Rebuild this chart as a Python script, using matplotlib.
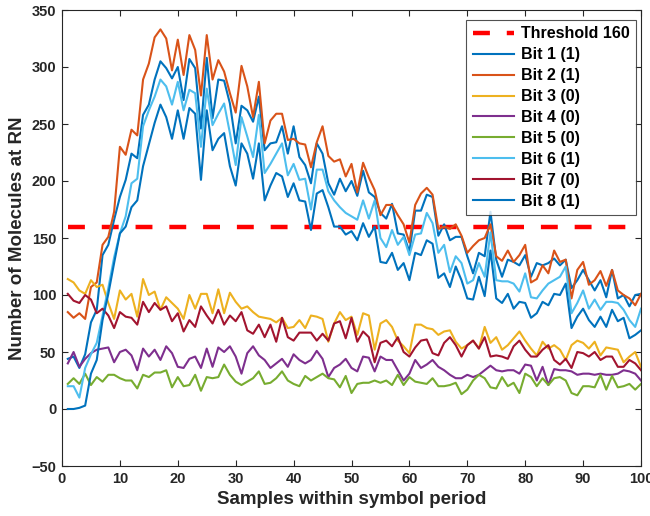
import numpy as np
import matplotlib
matplotlib.use("Agg")
import matplotlib.pyplot as plt

plt.rcParams['font.family'] = ['Liberation Sans', 'DejaVu Sans']
plt.rcParams['font.weight'] = 'bold'

samples = list(range(1, 101))
threshold = 160

bit1 = [44, 46, 36, 48, 76, 87, 135, 144, 166,
        186, 201, 224, 220, 258, 267, 289, 305, 299, 290, 300, 271, 307, 299, 246,
        308, 255, 289, 288, 268, 233, 266, 262, 252, 274, 227, 233, 234, 248, 224, 248, 221, 214, 198, 233, 224, 198, 188, 202, 191,
        200, 187, 209, 190, 186, 172, 167, 180, 154, 153, 138, 174, 174, 188, 186, 152, 162,
        148, 151, 151, 134, 119, 137, 134,
        173, 131, 116, 131, 129, 126, 135, 116, 128, 126, 128, 132, 126, 131, 106, 113, 122, 113, 104, 113, 98, 122, 97, 100, 90, 100, 101]

bit2 = [85, 80, 84, 79, 107, 111, 144, 151, 173, 230, 223, 245, 240, 289, 303, 326, 333, 325, 297, 324, 293, 328, 315, 275, 328,
        289, 306, 296, 277, 260, 301, 283, 256, 287, 233, 253, 259, 259, 236, 237, 233, 232, 212, 234, 248, 222, 217, 219, 204,
        215, 190, 216, 203, 192, 170, 179, 179, 170, 162, 146, 179, 189, 194, 188, 158, 160, 158, 162, 152, 137, 143, 148, 150,
        162, 134, 130, 139, 129, 135, 144, 111, 114, 126, 119, 139, 129, 131,
        97, 122, 129, 109, 113, 121, 108, 122, 104, 100, 97, 91, 101]

bit3 = [114, 111, 104, 101, 113, 107, 109, 93, 79, 104, 96, 101, 81, 114, 100, 103, 87, 98, 93, 88,
        79, 100, 88, 101, 101, 84, 105, 84, 102, 94, 88, 90, 85, 81,
        80, 79, 76, 80, 71, 72, 78, 71, 82, 81, 79, 59, 75, 85, 78, 81, 65, 84, 82, 52, 75, 78, 72, 60, 55, 49,
        74, 74, 71, 70,
        65, 68, 69, 59, 53, 56, 60, 53, 72, 58, 63, 52, 56, 62, 68, 60, 53, 47, 59, 53, 56, 52, 43, 56, 60, 58,
        53, 59, 47, 54, 53, 52, 41, 46, 50, 37]

bit4 = [40, 50, 37, 44, 49, 52, 53, 54, 41, 50, 52, 47, 34, 53, 46, 52, 43, 55, 49, 37,
        36, 44, 46, 36, 53, 37, 54, 50, 55, 46, 31, 49, 55, 47,
        43, 36, 40, 44, 37, 48, 43, 40, 43, 51, 44, 28, 36, 39, 44, 36, 33, 46, 45, 33, 46, 43, 43, 34, 25, 31,
        43, 36, 39, 43,
        37, 34, 30, 27, 27, 30, 28, 30, 34, 38, 34, 33, 34, 34, 31, 39, 38, 25, 37, 21, 35, 34, 34, 33, 30, 31,
        31, 30, 31, 30, 30, 31, 34, 33, 31, 25]

bit5 = [22, 27, 22, 31, 21, 28, 24, 30, 30, 27, 25, 25, 18, 30, 28, 32, 32, 34, 19, 28,
        20, 21, 30, 16, 28, 27, 28, 39, 30, 24, 21, 24, 27, 33,
        22, 23, 27, 33, 25, 22, 20, 29, 25, 28, 31, 27, 26, 19, 29, 14, 22, 23, 23, 25, 23, 25, 21, 30, 21, 28,
        24, 23, 22, 27,
        20, 20, 21, 23, 13, 17, 25, 30, 27, 19, 18, 28, 20, 23, 14, 31, 28, 20, 27, 21, 27, 28, 25, 14, 12, 20,
        20, 19, 30, 17, 29, 19, 20, 22, 17, 22]

bit6 = [20, 20, 10, 36, 48, 58, 82, 106, 133, 154, 169, 198, 202,
        248, 262, 274, 289, 283, 267, 287, 262, 280, 277, 230,
        281, 249, 259, 268, 242, 214, 256, 239, 221, 258, 207, 215, 224, 233, 205, 215, 201, 202, 175, 210, 210, 191, 183, 177, 172,
        169, 166, 183, 167, 183, 150, 142, 157, 144, 151, 135, 153, 154, 172, 163, 137, 144,
        120, 134, 128, 110, 113, 128, 116,
        155, 113, 112, 112, 110, 103, 119, 98, 97, 104, 110, 113, 116, 125, 84, 93, 104, 88, 96, 87,
        94, 94, 93, 87, 78, 72, 88]

bit7 = [101, 95, 93, 100, 96, 84, 88, 82, 71, 85, 81, 80, 74, 94, 85, 93, 87, 90, 77, 84,
        68, 78, 72, 90, 82, 75, 87, 74, 82, 77, 85, 69, 66, 74,
        63, 74, 59, 80, 63, 60, 67, 67, 67, 60, 66, 60, 75, 77, 62, 80, 59, 68, 63, 41, 58, 60, 55, 63, 50, 46,
        54, 60, 61, 49,
        47, 58, 63, 56, 46, 56, 60, 53, 63, 46, 47, 46, 44, 55, 60, 52, 46, 46, 52, 56, 43, 39, 44, 36, 50, 49,
        46, 50, 43, 46, 46, 37, 37, 43, 40, 34]

bit8 = [0, 0, 1, 3, 31, 43, 78, 101, 128, 154, 160, 177, 183,
        213, 232, 251, 267, 256, 237, 262, 237, 264, 259, 201,
        262, 227, 237, 242, 213, 196, 233, 224, 202, 233, 183, 196, 207, 204, 186, 198, 183, 182, 157, 189, 192, 177, 160, 160, 153,
        156, 148, 163, 151, 160, 129, 128, 137, 122, 128, 113, 137, 135, 148, 145, 115, 119,
        107, 125, 113, 97, 96, 116, 99,
        139, 97, 93, 101, 88, 94, 93, 80, 84, 94, 91, 101, 100, 110, 71, 81, 88, 78, 72, 81,
        72, 87, 77, 80, 62, 65, 69]

series = [bit1, bit2, bit3, bit4, bit5, bit6, bit7, bit8]
labels = ['Bit 1 (1)', 'Bit 2 (1)', 'Bit 3 (0)', 'Bit 4 (0)', 'Bit 5 (0)',
          'Bit 6 (1)', 'Bit 7 (0)', 'Bit 8 (1)']
colors = ['#0072BD', '#D95319', '#EDB120', '#7E2F8E', '#77AC30',
          '#4DBEEE', '#A2142F', '#0072BD']

fig = plt.figure(figsize=(6.5, 5.16), dpi=100)
ax = fig.add_axes([62/650, 1-466/516, (641-62)/650, (466-10)/516])

ax.plot(samples, [threshold]*len(samples), color='#FF0000', lw=3.2,
        dashes=(3.8, 3.8), label='Threshold 160')
for s, lab, c in zip(series, labels, colors):
    ax.plot(samples, s, color=c, lw=1.5, label=lab)

ax.set_xlim(0, 100)
ax.set_ylim(-50, 350)
ax.set_xticks(range(0, 101, 10))
ax.set_yticks(range(-50, 351, 50))
ax.tick_params(direction='in', top=True, right=True, length=4, width=0.8,
               labelsize=10.5, colors='#262626', pad=4)
for lbl in ax.get_xticklabels() + ax.get_yticklabels():
    lbl.set_fontweight('bold')
for sp in ax.spines.values():
    sp.set_color('#262626')
    sp.set_linewidth(0.8)

ax.set_xlabel('Samples within symbol period', fontsize=13.5, fontweight='bold', color='#262626')
ax.set_ylabel('Number of Molecules at RN', fontsize=13.5, fontweight='bold', color='#262626')

leg = ax.legend(loc='upper right', bbox_to_anchor=(0.991, 0.978), fontsize=11.5,
                frameon=True, fancybox=False, handlelength=2.6, handletextpad=0.4,
                labelspacing=0.37, borderpad=0.4, borderaxespad=0.0)
leg.get_frame().set_edgecolor('#262626')
leg.get_frame().set_linewidth(0.8)
for t in leg.get_texts():
    t.set_fontweight('bold')

fig.savefig('out.png', dpi=100)
